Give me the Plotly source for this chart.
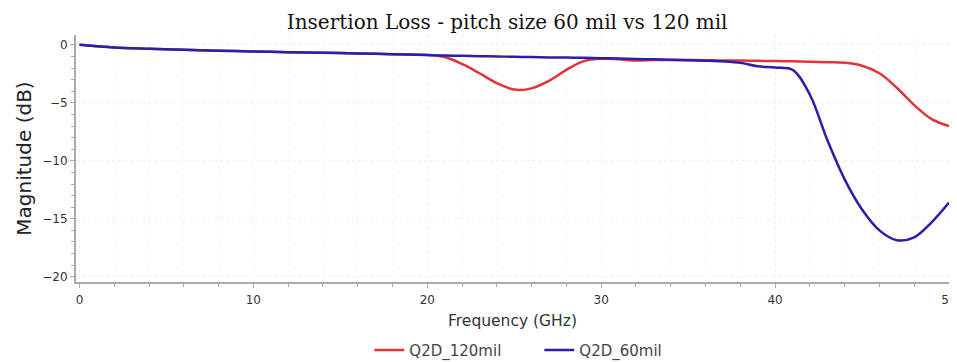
import plotly.graph_objects as go

# Frekvenca (GHz)
freq = [0, 1, 2, 4, 6, 8, 10, 12, 14, 16, 18, 20, 21, 22, 23, 24, 25, 26, 27, 28, 29,
        30, 31, 32, 33, 34, 35, 36, 37, 38, 39, 40, 41, 42, 43, 44, 45, 46, 47, 48, 49, 50]

# Q2D_120mil (dB)
q2d_120mil = [0, -0.12, -0.22, -0.33, -0.42, -0.5, -0.57, -0.63, -0.68, -0.74, -0.8, -0.88,
              -1.05, -1.65, -2.45, -3.3, -3.85, -3.75, -3.1, -2.15, -1.4,
              -1.2, -1.25, -1.35, -1.3, -1.3, -1.3, -1.32, -1.35, -1.35, -1.38, -1.4, -1.42,
              -1.45, -1.5, -1.55, -1.8, -2.45, -3.7, -5.2, -6.4, -7.0]

# Q2D_60mil (dB)
q2d_60mil = [0, -0.12, -0.22, -0.33, -0.42, -0.5, -0.57, -0.63, -0.68, -0.74, -0.8, -0.88,
             -0.92, -0.95, -0.98, -1.0, -1.03, -1.05, -1.08, -1.1, -1.12,
             -1.15, -1.18, -1.22, -1.25, -1.28, -1.32, -1.36, -1.42, -1.55, -1.85, -1.95, -2.15,
             -4.3, -8.2, -11.6, -14.2, -16.0, -16.85, -16.6, -15.3, -13.6]

fig = go.Figure()
fig.add_trace(go.Scatter(x=freq, y=q2d_120mil, name="Q2D_120mil", mode="lines",
                         line=dict(color="#e0343a", width=2.5, shape="spline")))
fig.add_trace(go.Scatter(x=freq, y=q2d_60mil, name="Q2D_60mil", mode="lines",
                         line=dict(color="#2a1fa8", width=2.5, shape="spline")))

# stran ima 8 px roba, zato je slika za toliko manjša
fig.update_layout(
    width=949, height=354,
    title=dict(text="Insertion Loss - pitch size 60 mil vs 120 mil", x=0.526, y=0.96,
               xanchor="center", yanchor="middle",
               font=dict(family="DejaVu Serif", size=20, color="#111111")),
    margin=dict(l=68, r=8, t=27, b=80, autoexpand=False),
    plot_bgcolor="#ffffff",
    paper_bgcolor="#ffffff",
    font=dict(family="DejaVu Sans", size=12, color="#333333"),
    legend=dict(orientation="h", x=0.336, y=-0.21, xanchor="left", yanchor="top",
                font=dict(size=15, color="#444444"), itemwidth=30,
                entrywidth=125, entrywidthmode="pixels"),
    showlegend=True,
)
fig.update_xaxes(
    range=[-0.2, 50], tickvals=[0, 10, 20, 30, 40, 50], ticks="outside", ticklen=4,
    showline=True, linecolor="#aaaaaa", linewidth=2, gridcolor="#f2f2f2", griddash="dot",
    minor=dict(dtick=2, ticks="outside", ticklen=3, tickcolor="#aaaaaa", showgrid=True,
               gridcolor="#f4f4f4", griddash="dot"),
    tickcolor="#aaaaaa", zeroline=False, automargin=False, ticklabeloverflow="allow",
    ticklabelstandoff=2,
    title=dict(text="Frequency (GHz)", font=dict(size=15.5, color="#333333"), standoff=9),
)
fig.update_yaxes(
    range=[-20.45, 0.85], tickvals=[0, -5, -10, -15, -20], ticks="outside", ticklen=4,
    showline=True, linecolor="#aaaaaa", linewidth=2, gridcolor="#f2f2f2", griddash="dot",
    minor=dict(dtick=1, ticks="outside", ticklen=3, tickcolor="#aaaaaa"),
    tickcolor="#aaaaaa", zeroline=False, automargin=False,
    title=dict(text="Magnitude (dB)", font=dict(size=20, color="#222222"), standoff=5),
)

fig.write_html("out.html")
